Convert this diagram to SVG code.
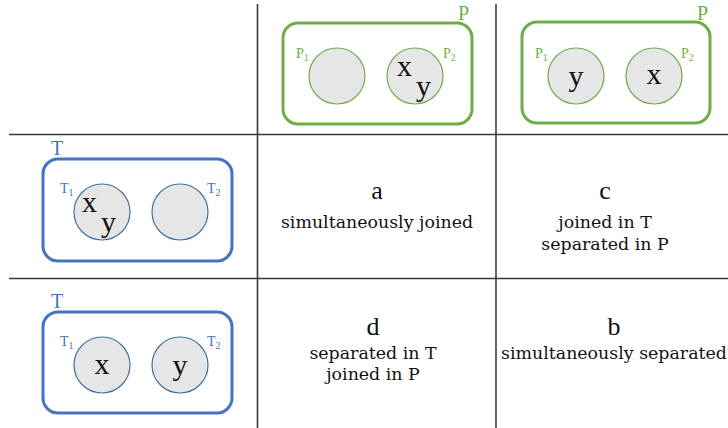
<svg xmlns="http://www.w3.org/2000/svg" width="728" height="428" viewBox="0 0 728 428">
<style>
.grid{stroke:#3a3a3a;stroke-width:1.6;fill:none}
.pbox{fill:none;stroke:#70AD47;stroke-width:3}
.tbox{fill:none;stroke:#4472C4;stroke-width:3}
.pc{fill:#E6E6E6;stroke:#70AD47;stroke-width:1.2}
.tc{fill:#E6E6E6;stroke:#41719C;stroke-width:1.2}
.lp{font-family:'Liberation Serif','DejaVu Serif',serif;fill:#70AD47}
.lt{font-family:'Liberation Serif','DejaVu Serif',serif;fill:#4472C4}
.var{font-family:'Liberation Serif','DejaVu Serif',serif;font-size:30px;fill:#111}
.big{font-family:'Liberation Serif','DejaVu Serif',serif;font-size:26px;fill:#111;text-anchor:middle}
.cap{font-family:'DejaVu Serif','Liberation Serif',serif;font-size:17.4px;fill:#111;text-anchor:middle}
</style>
<g id="grid">
<line class="grid" x1="9" y1="134.5" x2="728" y2="134.5"/>
<line class="grid" x1="9" y1="278.5" x2="728" y2="278.5"/>
<line class="grid" x1="257.5" y1="4" x2="257.5" y2="428"/>
<line class="grid" x1="496" y1="4" x2="496" y2="428"/>
</g>
<g id="P-joined">
<rect class="pbox" x="283" y="23" width="189" height="101" rx="15"/>
<text class="lp" x="458" y="20" font-size="20">P</text>
<circle class="pc" cx="337" cy="76" r="28"/>
<circle class="pc" cx="415" cy="76" r="28"/>
<text class="lp" x="296" y="58" font-size="14">P<tspan font-size="10" dy="3">1</tspan></text>
<text class="lp" x="443" y="58" font-size="14">P<tspan font-size="10" dy="3">2</tspan></text>
<text class="var" x="397" y="76">x</text>
<text class="var" x="416" y="96">y</text>
</g>
<g id="P-separated">
<rect class="pbox" x="522" y="22" width="188" height="101" rx="15"/>
<text class="lp" x="697" y="20" font-size="20">P</text>
<circle class="pc" cx="576" cy="76" r="28"/>
<circle class="pc" cx="654" cy="76" r="28"/>
<text class="lp" x="535" y="58" font-size="14">P<tspan font-size="10" dy="3">1</tspan></text>
<text class="lp" x="681" y="58" font-size="14">P<tspan font-size="10" dy="3">2</tspan></text>
<text class="var" x="576" y="86" text-anchor="middle">y</text>
<text class="var" x="654" y="84" text-anchor="middle">x</text>
</g>
<g id="T-joined">
<rect class="tbox" x="43" y="159" width="189" height="102" rx="15"/>
<text class="lt" x="51" y="155" font-size="20">T</text>
<circle class="tc" cx="102" cy="212" r="28"/>
<circle class="tc" cx="180" cy="212" r="28"/>
<text class="lt" x="60" y="193" font-size="14">T<tspan font-size="10" dy="3">1</tspan></text>
<text class="lt" x="207" y="193" font-size="14">T<tspan font-size="10" dy="3">2</tspan></text>
<text class="var" x="82" y="212">x</text>
<text class="var" x="101" y="232">y</text>
</g>
<g id="T-separated">
<rect class="tbox" x="43" y="312" width="189" height="101" rx="15"/>
<text class="lt" x="51" y="308" font-size="20">T</text>
<circle class="tc" cx="102" cy="365" r="28"/>
<circle class="tc" cx="180" cy="365" r="28"/>
<text class="lt" x="60" y="346" font-size="14">T<tspan font-size="10" dy="3">1</tspan></text>
<text class="lt" x="207" y="346" font-size="14">T<tspan font-size="10" dy="3">2</tspan></text>
<text class="var" x="102" y="374" text-anchor="middle">x</text>
<text class="var" x="180" y="375" text-anchor="middle">y</text>
</g>
<g id="cell-a">
<text class="big" x="377" y="199">a</text>
<text class="cap" x="377" y="228">simultaneously joined</text>
</g>
<g id="cell-c">
<text class="big" x="605" y="199">c</text>
<text class="cap" x="605" y="228">joined in T</text>
<text class="cap" x="605" y="250">separated in P</text>
</g>
<g id="cell-d">
<text class="big" x="373" y="335">d</text>
<text class="cap" x="373" y="359">separated in T</text>
<text class="cap" x="373" y="380">joined in P</text>
</g>
<g id="cell-b">
<text class="big" x="614" y="335">b</text>
<text class="cap" x="614" y="359">simultaneously separated</text>
</g>
</svg>
